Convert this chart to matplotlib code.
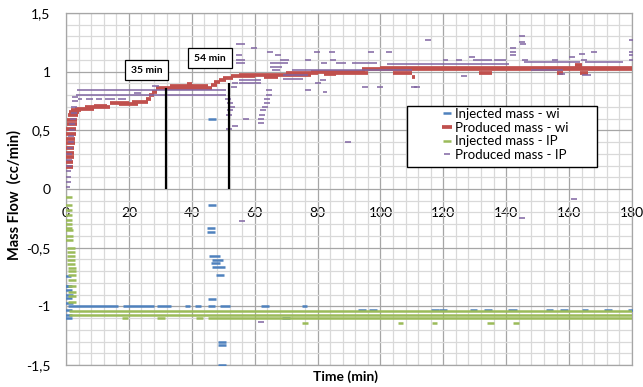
import matplotlib
matplotlib.use("Agg")
import matplotlib.pyplot as plt
from matplotlib.patches import Rectangle
from matplotlib.ticker import MultipleLocator, FuncFormatter

plt.rcParams['font.family'] = ['Lato', 'DejaVu Sans']

# --- data (time in min, mass flow in cc/min) ---
# isolated dash markers
wi_inj_t = [0.2, 0.3, 0.6, 0.6, 0.8, 0.6, 0.8, 0.5, 0.6, 0.6,
            46.5, 46.0, 46.0, 49.0, 46.5, 49.5, 49.5, 49.5, 46.5, 70.0,
            94.0, 97.5, 117.5, 120.0, 134.2, 158.5, 172.4, 180.0]
wi_inj_v = [-0.745, -0.83, -0.83, -0.86, -0.90, -0.93, -0.97, -1.03, -1.07, -1.10,
            -0.135, -0.335, -0.37, -0.735, -0.935, -1.30, -1.33, -1.50, 0.60, -1.10,
            -1.035, -1.035, -1.035, -1.035, -1.035, -1.035, -1.035, -1.035]
# runs of overlapping dashes: start, end, level
wi_inj_runs = [(0.5, 16.5, -1.0), (18.0, 28.0, -1.0), (29.0, 33.5, -1.0), (38.0, 39.5, -1.0),
               (41.0, 43.0, -1.0), (45.0, 47.5, -1.0), (49.0, 52.0, -1.0), (62.0, 64.5, -1.0),
               (75.0, 76.6, -1.0), (45.5, 49.0, -0.57), (46.5, 50.0, -0.605), (46.0, 49.0, -0.63),
               (46.5, 50.5, -0.665), (128.5, 130.7, -1.035), (140.6, 143.4, -1.035),
               (152.6, 155.0, -1.035), (164.0, 166.0, -1.035)]

wi_prod_t = [0.6, 0.7, 0.8, 1.0, 1.1, 1.2, 1.3, 1.5, 1.6, 1.8, 2.0, 2.3, 2.7, 3.2]
wi_prod_v = [0.19, 0.23, 0.27, 0.31, 0.35, 0.39, 0.43, 0.47, 0.51, 0.55, 0.59, 0.63, 0.66, 0.675]
wi_prod_runs = [(3.0, 9.0, 0.685), (6.0, 14.0, 0.695), (9.0, 13.0, 0.71), (14.0, 20.0, 0.735),
                (17.0, 23.0, 0.725), (21.0, 26.0, 0.745), (25.5, 27.0, 0.77), (26.5, 28.0, 0.80),
                (27.5, 29.0, 0.83), (28.5, 46.5, 0.86), (33.0, 45.0, 0.875), (38.5, 40.0, 0.895),
                (46.0, 48.0, 0.885), (47.0, 49.0, 0.91), (48.5, 51.0, 0.93), (50.0, 53.0, 0.95),
                (52.5, 60.0, 0.965), (55.0, 78.0, 0.975), (63.0, 67.5, 0.955), (70.0, 80.0, 0.99),
                (78.0, 95.0, 1.0), (82.0, 86.0, 0.98), (86.0, 96.0, 0.99), (94.0, 180.0, 1.02),
                (100.0, 180.0, 1.035), (104.0, 110.0, 0.99), (131.5, 135.5, 0.985),
                (156.0, 158.0, 0.985), (163.5, 166.0, 0.985), (110.0, 111.0, 0.955),
                (162.0, 164.0, 1.055)]

ip_inj_t = [0.5, 0.6, 0.6, 0.6, 0.7, 0.7, 0.7, 0.8, 0.8, 0.8, 1.6, 1.6, 1.6, 1.7, 1.7,
            1.8, 1.8, 1.8, 1.9, 1.9, 1.9, 2.0, 2.0]
ip_inj_v = [-0.065, -0.136, -0.18, -0.22, -0.265, -0.30, -0.33, -0.35, -0.40, -0.435,
            -0.505, -0.535, -0.57, -0.605, -0.64, -0.675, -0.70, -0.73, -0.775, -0.83,
            -0.875, -0.915, -0.96]
ip_inj_runs = [(1.0, 180.0, -1.04), (1.0, 180.0, -1.07), (17.7, 19.7, -1.10), (29.0, 31.5, -1.10),
               (41.5, 43.6, -1.10), (45.0, 180.0, -1.10), (75.0, 77.0, -1.14),
               (105.7, 107.3, -1.14), (116.5, 118.0, -1.14), (134.0, 136.0, -1.14),
               (142.0, 144.0, -1.14)]

ip_prod_t = [0.4, 0.5, 0.6, 0.7, 0.8, 1.0, 1.1, 1.3, 1.5, 1.6, 1.8, 2.0, 2.2, 2.4, 2.6, 2.8, 3.0,
             51.4, 52.2, 52.7, 52.2, 51.8, 53.8, 51.8, 53.5, 53.8, 57.3,
             64.6, 64.4, 64.0, 63.8, 63.4, 62.8, 62.3, 62.0, 62.0,
             59.8, 55.0, 65.0, 67.5, 77.0, 79.8, 82.0, 85.0, 84.7, 97.0, 102.6, 115.0,
             77.0, 80.0, 81.7, 95.0, 100.0, 111.6, 89.6, 110.8, 126.5, 157.6,
             145.0, 145.0, 145.3, 142.0, 142.0, 142.0, 146.0, 129.0, 155.5, 161.0,
             164.0, 164.6, 167.8, 180.0, 180.0, 180.0, 180.0,
             56.0, 62.0, 145.0, 161.6]
ip_prod_v = [0.02, 0.06, 0.10, 0.15, 0.20, 0.25, 0.30, 0.35, 0.40, 0.45, 0.50, 0.55, 0.60,
             0.65, 0.70, 0.75, 0.78,
             0.77, 0.73, 0.70, 0.67, 0.63, 0.54, 0.51, 0.866, 0.90, 0.60,
             0.84, 0.80, 0.77, 0.73, 0.70, 0.67, 0.63, 0.60, 0.56,
             1.20, 1.14, 1.17, 1.14, 1.10, 1.17, 1.07, 1.10, 1.17, 1.17, 1.17, 1.27,
             0.84, 0.90, 0.93, 0.87, 0.87, 0.87, 0.40, 0.866, 0.96, 0.98,
             1.30, 1.25, 1.235, 1.20, 1.17, 1.14, 1.10, 1.125, 1.10, 1.125,
             1.15, 1.10, 1.17, 1.27, 1.17, 1.14, 1.10,
             -0.27, -1.135, -0.25, -0.085]
ip_prod_runs = [(3.3, 51.0, 0.80), (3.5, 51.0, 0.84),
                (3.8, 5.2, 0.765), (6.3, 8.5, 0.765), (9.5, 11.5, 0.765), (12.5, 15.5, 0.765),
                (16.5, 19.0, 0.765), (21.5, 24.0, 0.815), (27.5, 29.5, 0.88),
                (54.0, 57.0, 1.24), (54.0, 57.0, 1.10), (54.0, 57.0, 1.07), (55.0, 62.0, 0.93),
                (55.0, 62.0, 0.905), (64.9, 70.6, 1.07), (65.0, 68.8, 1.04), (65.5, 68.0, 1.01),
                (69.0, 75.5, 0.935), (69.0, 77.0, 0.97), (68.0, 71.0, 1.10), (72.0, 110.0, 1.01),
                (86.0, 89.0, 1.07), (91.0, 99.0, 1.07), (102.0, 141.0, 1.065),
                (120.0, 121.5, 1.10), (124.0, 126.0, 1.10), (129.5, 135.5, 1.10),
                (136.0, 140.0, 1.10), (145.5, 163.5, 1.08), (165.0, 177.0, 1.08),
                (148.0, 158.0, 1.01), (164.0, 167.0, 0.97), (81.6, 83.0, 0.83)]

series_labels = ['Injected mass - wi', 'Produced mass - wi', 'Injected mass - IP', 'Produced mass - IP']

# breakthrough markers
bt_times = [31.7, 51.8]
bt_tops = [0.865, 0.90]
bt_labels = ['35 min', '54 min']

# --- styling ---
colors = ['#4F81BD', '#C0504D', '#9BBB59', '#8064A2']
dash_w = [5.5, 7.0, 5.5, 4.0]     # marker length, pt
dash_h = [1.8, 2.7, 1.8, 1.1]     # marker thickness, pt

series = [(wi_inj_t, wi_inj_v, wi_inj_runs),
          (wi_prod_t, wi_prod_v, wi_prod_runs),
          (ip_inj_t, ip_inj_v, ip_inj_runs),
          (ip_prod_t, ip_prod_v, ip_prod_runs)]

fig = plt.figure(figsize=(6.43, 3.87), dpi=100)
ax = fig.add_axes([66 / 643, 22 / 387, 566 / 643, 352 / 387])

handles = []
for i, (t, v, runs) in enumerate(series):
    z = 3 + i
    h, = ax.plot(t, v, linestyle='none', marker='_', color=colors[i],
                 markersize=dash_w[i], markeredgewidth=dash_h[i], zorder=z)
    ax.hlines([r[2] for r in runs], [r[0] for r in runs], [r[1] for r in runs],
              colors=colors[i], linewidth=dash_h[i], zorder=z)
    handles.append(h)

ax.vlines(bt_times, 0, bt_tops, colors='black', linewidth=1.6, zorder=8)
ax.text(25.7, 1.013, bt_labels[0], ha='center', va='center', fontsize=7.5, fontweight='bold',
        zorder=10, bbox=dict(boxstyle='square,pad=0.55', fc='white', ec='black', lw=0.9))
ax.text(45.8, 1.115, bt_labels[1], ha='center', va='center', fontsize=7.5, fontweight='bold',
        zorder=10, bbox=dict(boxstyle='square,pad=0.55', fc='white', ec='black', lw=0.9))

ax.set_xlim(0, 180)
ax.set_ylim(-1.5, 1.5)
ax.xaxis.set_major_locator(MultipleLocator(20))
ax.xaxis.set_minor_locator(MultipleLocator(4))
ax.yaxis.set_major_locator(MultipleLocator(0.5))
ax.yaxis.set_minor_locator(MultipleLocator(0.1))
ax.set_axisbelow(True)
ax.grid(which='major', color='#a6a6a6', linewidth=0.9)
ax.grid(which='minor', color='#d9d9d9', linewidth=0.9)
for s in ax.spines.values():
    s.set_color('#a6a6a6')
    s.set_linewidth(0.9)

ax.tick_params(axis='x', which='both', length=0, labelbottom=False)
ax.tick_params(axis='y', which='both', length=0, pad=11, labelsize=10)
ax.yaxis.set_major_formatter(FuncFormatter(lambda val, pos: f"{val:g}".replace('.', ',')))

# x tick labels sit under the zero line
sec = ax.secondary_xaxis(0.4999)
sec.xaxis.set_major_locator(MultipleLocator(20))
sec.tick_params(length=0, pad=13, labelsize=10)
for s in sec.spines.values():
    s.set_visible(False)

ax.set_xlabel('Time (min)', fontsize=10, fontweight='bold')
ax.xaxis.set_label_coords(0.493, -0.016)
ax.set_ylabel('Mass Flow  (cc/min)', fontsize=10.5, fontweight='bold')
ax.yaxis.set_label_coords(-0.079, 0.483)

# legend with its own frame
ax.add_patch(Rectangle((0.602, 0.5625), 0.336, 0.1735, transform=ax.transAxes,
                       fc='white', ec='black', lw=1.0, zorder=11))
leg = ax.legend(handles, series_labels, loc='upper left', bbox_to_anchor=(0.664, 0.73),
                frameon=False, fontsize=9.5, handlelength=0.8, handletextpad=0.2,
                labelspacing=0.12, borderpad=0, borderaxespad=0, numpoints=1)
leg.set_zorder(12)

fig.savefig('out.png', dpi=100)
